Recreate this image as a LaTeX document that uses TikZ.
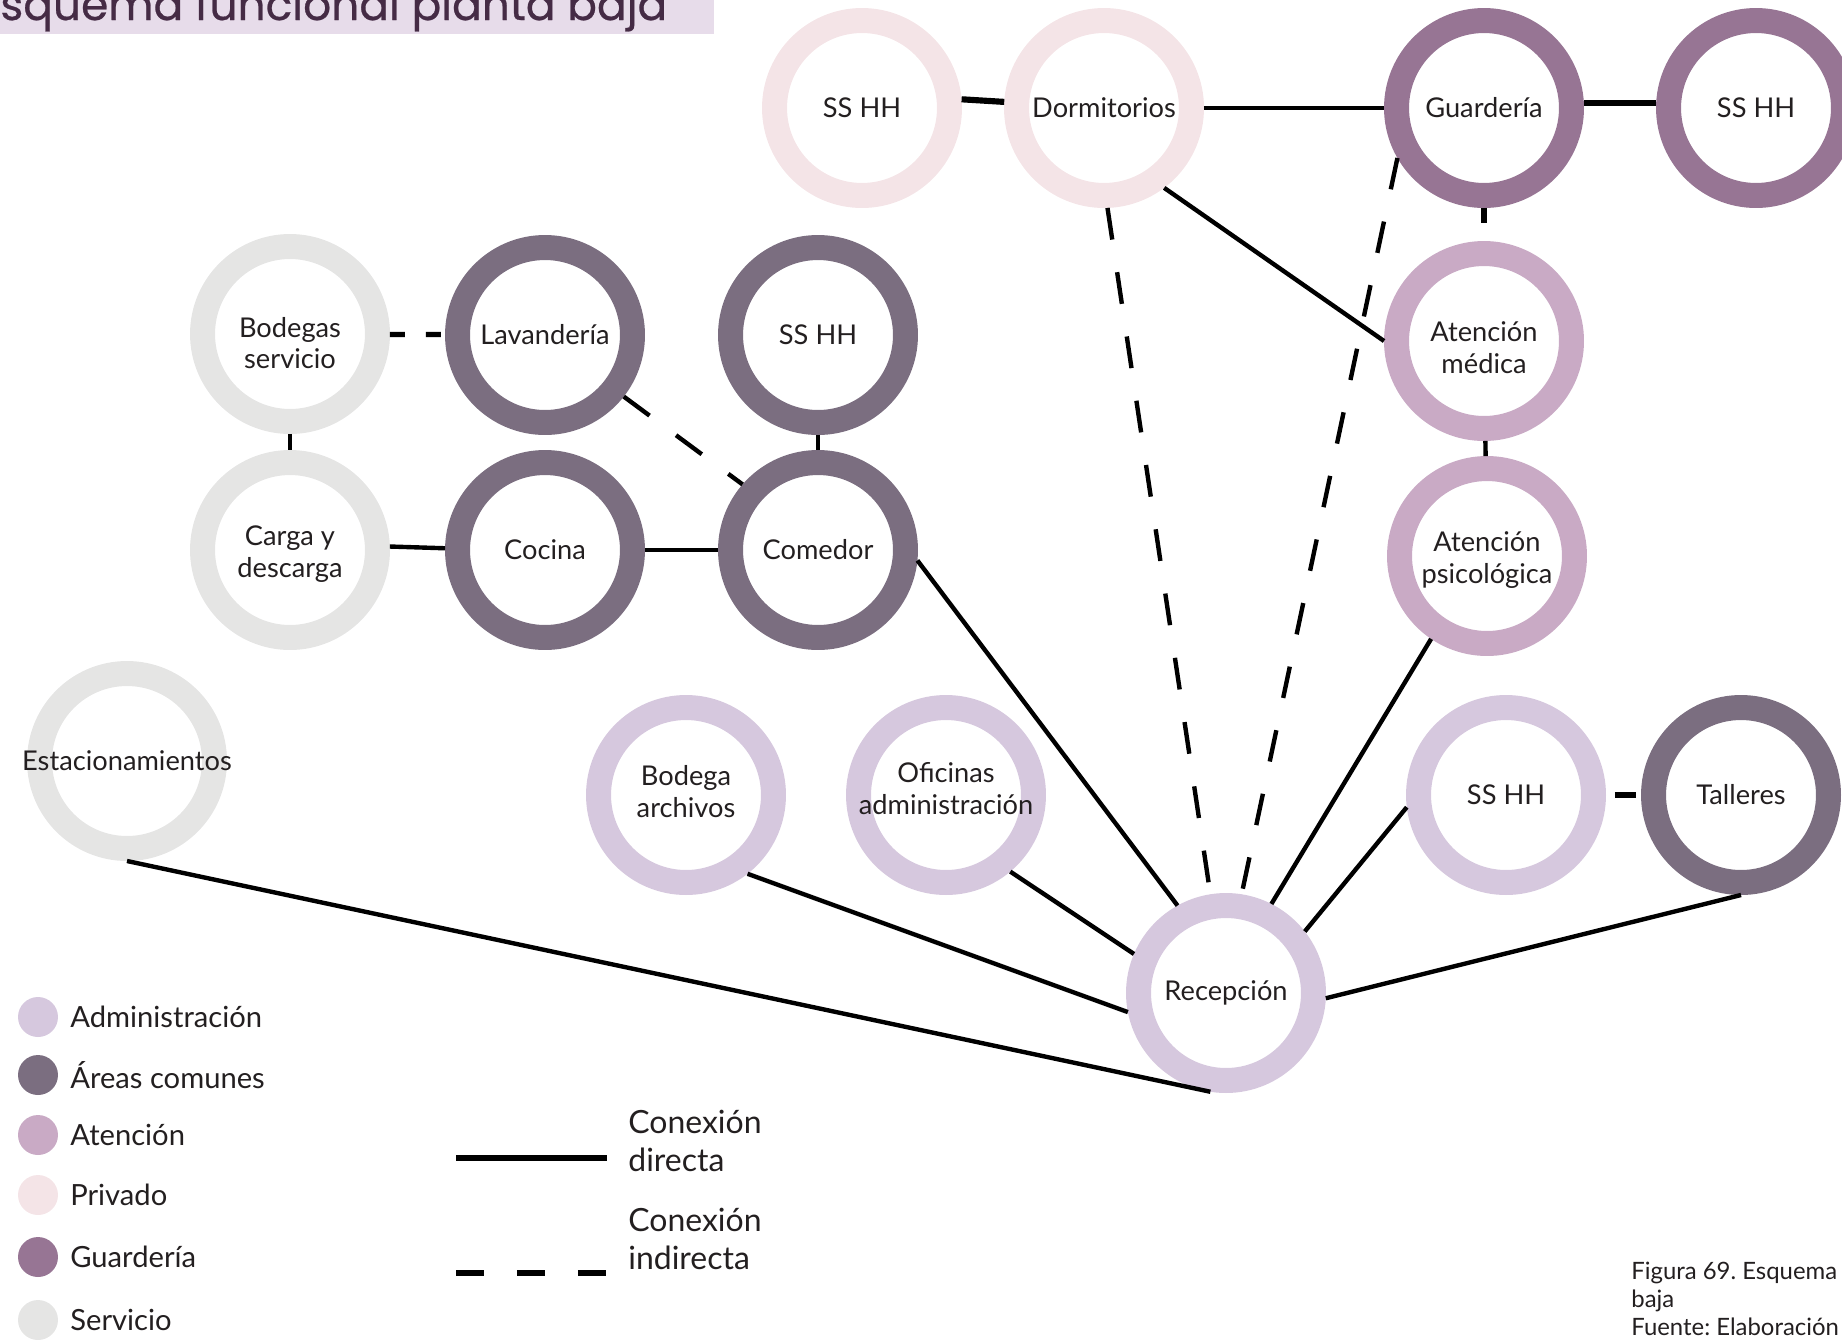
\documentclass[tikz,border=0pt]{standalone}
\usepackage{fontspec}
\usepackage{xcolor}
\usepackage{tikz}
\setmainfont{Lato}
\newfontfamily\titlefont{Poppins}[FakeBold=0.6]
\usetikzlibrary{positioning, calc}
\definecolor{admin}{HTML}{D6C8DE}
\definecolor{comunes}{HTML}{7B6E80}
\definecolor{atencion}{HTML}{C9AAC5}
\definecolor{privado}{HTML}{F4E4E7}
\definecolor{guarderia}{HTML}{977594}
\definecolor{servicio}{HTML}{E5E5E4}
\definecolor{titlebg}{HTML}{E7DCEA}
\definecolor{titleink}{HTML}{452B45}
\definecolor{ink}{HTML}{231F20}
% two-line circle label, moved down by #1
\newcommand{\twolabel}[2]{\raisebox{-#1}[\height][\depth]{\begin{tabular}{@{}c@{}}#2\end{tabular}}}
\frenchspacing

\begin{document}
\begin{tikzpicture}[
    x=0.02cm, y=-0.02cm,
    area/.style={circle, draw=#1, line width=0.5cm, minimum size=3.5cm,
                inner sep=0pt, align=center, text=ink,
                font=\fontsize{15.5}{18}\selectfont},
    dot/.style={circle, fill=#1, minimum size=0.8cm, inner sep=0pt},
    legtext/.style={anchor=west, inner sep=0pt, text=ink,
                font=\fontsize{16.6}{20}\selectfont},
    direct/.style={draw=black, line width=2.5pt},
    link/.style={draw=black, line width=3.5pt},
    indirect/.style={draw=black, line width=2.5pt, dash pattern=on 0.64cm off 0.66cm},
    indirectshort/.style={draw=black, line width=3pt, dash pattern=on 0.3cm off 0.42cm}
]
    \useasboundingbox (0,0) rectangle (1842,1343);

    % title
    \fill[titlebg] (0,0) rectangle (714,34);
    \node[anchor=base west, inner sep=0pt, text=titleink,
          font=\titlefont\fontsize{25}{28}\selectfont] (title) at (0,20) {squema funcional planta baja};

    % private and nursery row
    \node[area=privado] (sshhp) at (862,108) {SS HH};
    \node[area=privado] (dorm) at (1104,108) {Dormitorios};
    \node[area=guarderia] (guard) at (1484,108) {Guardería};
    \node[area=guarderia] (sshhg) at (1756,108) {SS HH};

    % care
    \node[area=atencion] (atmed) at (1484,341) {\twolabel{0.2cm}{Atención\\médica}};
    \node[area=atencion] (atpsi) at (1487,556) {\twolabel{0.1cm}{Atención\\psicológica}};

    % service and common areas
    \node[area=servicio] (bodserv) at (290,334) {\twolabel{0.25cm}{Bodegas\\servicio}};
    \node[area=comunes] (lav) at (545,335) {Lavandería};
    \node[area=comunes] (sshhc) at (818,335) {SS HH};
    \node[area=servicio] (carga) at (290,550) {\twolabel{0.1cm}{Carga y\\descarga}};
    \node[area=comunes] (cocina) at (545,550) {Cocina};
    \node[area=comunes] (comedor) at (818,550) {Comedor};

    % administration row
    \node[area=servicio] (estac) at (127,761) {\makebox[0pt]{Estacionamientos}};
    \node[area=admin] (bodarch) at (686,795) {\twolabel{0cm}{Bodega\\archivos}};
    \node[area=admin] (ofic) at (946,795) {\twolabel{-0.06cm}{Oficinas\\\makebox[0pt]{administración}}};
    \node[area=admin] (sshha) at (1506,795) {SS HH};
    \node[area=comunes] (taller) at (1741,795) {Talleres};
    \node[area=admin] (recep) at (1226,993) {Recepción};

    % connections
    \draw[link] (sshhp.5) -- (dorm);
    \draw[direct] (dorm) -- (guard);
    \draw[link] (guard.3) -- (sshhg.177);
    \draw[indirectshort] (guard) -- (atmed);
    \draw[direct] (dorm.-53) -- (atmed.180);
    \draw[direct] (atmed) -- (atpsi);
    \draw[indirect] (dorm.-88) -- (recep.99);
    \draw[indirect] (guard.-150) -- (recep.81);
    \draw[direct] (atpsi.-124) -- (recep.63);

    \draw[indirectshort] (bodserv) -- (lav);
    \draw[direct] (bodserv) -- (carga);
    \draw[direct] (carga.2) -- (cocina.179);
    \draw[direct] (cocina) -- (comedor);
    \draw[direct] (sshhc) -- (comedor);
    \draw[indirect] (lav.-38) -- (comedor.139);
    \draw[direct] (comedor.-6) -- (recep.119);

    \draw[direct] (estac.-90) -- (recep.-99);
    \draw[direct] (bodarch.-52) -- (recep.-169);
    \draw[direct] (ofic.-50) -- (recep.157);
    \draw[direct] (sshha.-173) -- (recep.38);
    \draw[link, shorten <=5pt, shorten >=3pt] (sshha) -- (taller);
    \draw[direct] (taller.-90) -- (recep.-3);

    % legend
    \node[dot=admin] (kadm) at (38,1017) {};
    \node[legtext] (tadm) at (70,1017) {Administración};
    \node[dot=comunes] (kcom) at (38,1075) {};
    \node[legtext] (tcom) at (70,1075) {Áreas comunes};
    \node[dot=atencion] (kate) at (38,1135) {};
    \node[legtext] (tate) at (70,1135) {Atención};
    \node[dot=privado] (kpri) at (38,1195) {};
    \node[legtext] (tpri) at (70,1195) {Privado};
    \node[dot=guarderia] (kgua) at (38,1257) {};
    \node[legtext] (tgua) at (70,1257) {Guardería};
    \node[dot=servicio] (kser) at (38,1320) {};
    \node[legtext] (tser) at (70,1320) {Servicio};

    \coordinate (ld1) at (456,1158);
    \coordinate (ld2) at (607,1158);
    \draw[direct, line width=3.4pt] (ld1) -- (ld2);
    \node[legtext, align=left, font=\fontsize{18.2}{21.5}\selectfont] (tdir) at (628,1141) {Conexión\\directa};
    \coordinate (li1) at (456,1273);
    \coordinate (li2) at (607,1273);
    \draw[direct, line width=3.4pt, dash pattern=on 0.56cm off 0.66cm] (li1) -- (li2);
    \node[legtext, align=left, font=\fontsize{18.2}{21.5}\selectfont] (tind) at (628,1239) {Conexión\\indirecta};

    % caption
    \node[anchor=north west, inner sep=0pt, align=left, text=ink,
          font=\fontsize{13.6}{15.8}\selectfont] (caption) at (1631,1262) {Figura 69. Esquema\\baja\\Fuente: Elaboración};
\end{tikzpicture}
\end{document}
